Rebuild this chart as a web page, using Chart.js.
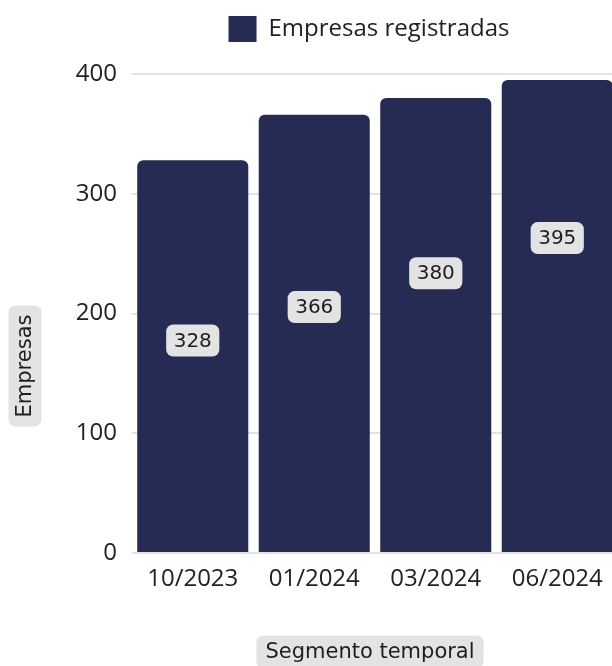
<!DOCTYPE html>
<html>
<head>
<meta charset="utf-8">
<script src="https://cdn.jsdelivr.net/npm/chart.js@4.4.1/dist/chart.umd.min.js"></script>
<style>
    html, body { margin: 0; padding: 0; background: #fff; overflow: hidden; }
    #wrap { width: 620px; height: 666px; }
</style>
</head>
<body>
<div id="wrap"><canvas id="empresasChart"></canvas></div>
<script>
    const categories = ['10/2023', '01/2024', '03/2024', '06/2024'];
    const empresas = [328, 366, 380, 395];
    const yTicks = [0, 100, 200, 300, 400];

    const barColor = '#252b52';

    // extra room under the legend, and nudge it a bit to the left
    const legendGap = {
        id: 'legendGap',
        afterInit(chart, args, opts) {
            const legend = chart.legend;
            const fit = legend.fit;
            legend.fit = function () {
                fit.call(this);
                this.height += opts.gap;
            };
        },
        afterLayout(chart, args, opts) {
            chart.legend.left -= opts.shift;
            chart.legend.right -= opts.shift;
        }
    };

    // value boxes drawn inside each bar
    const valueBoxes = {
        id: 'valueBoxes',
        afterDatasetsDraw(chart, args, opts) {
            const ctx = chart.ctx;
            const meta = chart.getDatasetMeta(0);
            ctx.save();
            ctx.font = '20px "DejaVu Sans"';
            ctx.textAlign = 'center';
            ctx.textBaseline = 'middle';
            meta.data.forEach((bar, i) => {
                const y = bar.y + (bar.base - bar.y) * opts.lift[i];
                const txt = String(empresas[i]);
                const w = ctx.measureText(txt).width + 15;
                const h = 32;
                ctx.fillStyle = '#e3e3e3';
                ctx.beginPath();
                ctx.roundRect(bar.x - w / 2, y - h / 2, w, h, 7);
                ctx.fill();
                ctx.fillStyle = '#1e1e1e';
                ctx.fillText(txt, bar.x, y + 1);
            });
            ctx.restore();
        }
    };

    // axis titles with rounded grey background
    const axisTitles = {
        id: 'axisTitles',
        afterDraw(chart, args, opts) {
            const ctx = chart.ctx;
            ctx.save();
            ctx.font = '21px "DejaVu Sans"';
            ctx.textAlign = 'center';
            ctx.textBaseline = 'middle';
            opts.items.forEach(item => {
                ctx.save();
                ctx.translate(item.x, item.y);
                ctx.rotate(item.rotation);
                const w = ctx.measureText(item.text).width + 18;
                const h = 33;
                ctx.fillStyle = '#e3e3e3';
                ctx.beginPath();
                ctx.roundRect(-w / 2, -h / 2, w, h, 7);
                ctx.fill();
                ctx.fillStyle = '#1e1e1e';
                ctx.fillText(item.text, 0, 1);
                ctx.restore();
            });
            ctx.restore();
        }
    };

    const ctx = document.getElementById('empresasChart').getContext('2d');
    new Chart(ctx, {
        type: 'bar',
        data: {
            labels: categories,
            datasets: [{
                label: 'Empresas registradas',
                data: empresas,
                backgroundColor: barColor,
                borderRadius: 6,
                categoryPercentage: 1,
                barPercentage: 0.914
            }]
        },
        options: {
            responsive: true,
            maintainAspectRatio: false,
            animation: false,
            layout: {
                padding: { top: 2, right: 2, left: 0, bottom: 0 }
            },
            scales: {
                x: {
                    grid: { display: false },
                    border: { display: false },
                    ticks: {
                        color: '#222',
                        padding: 4,
                        font: { family: '"Open Sans"', size: 24 }
                    },
                    afterFit: (scale) => { scale.height = 113; }
                },
                y: {
                    min: 0,
                    max: 400,
                    afterBuildTicks: (scale) => { scale.ticks = yTicks.map(v => ({ value: v })); },
                    grid: { color: '#e2e2e2', lineWidth: 2, drawTicks: false },
                    border: { display: false },
                    ticks: {
                        color: '#222',
                        padding: 15,
                        font: { family: '"Open Sans"', size: 24 }
                    },
                    afterFit: (scale) => { scale.width = 132; }
                }
            },
            plugins: {
                legend: {
                    position: 'top',
                    fullSize: false,
                    labels: {
                        color: '#222',
                        boxWidth: 28,
                        boxHeight: 26,
                        padding: 14,
                        font: { family: '"Open Sans"', size: 24 }
                    }
                },
                legendGap: { gap: 22, shift: 6 },
                tooltip: { enabled: false },
                valueBoxes: { lift: [0.46, 0.44, 0.386, 0.335] },
                axisTitles: {
                    items: [
                        { text: 'Empresas', x: 25, y: 366, rotation: -Math.PI / 2 },
                        { text: 'Segmento temporal', x: 370, y: 652, rotation: 0 }
                    ]
                }
            }
        },
        plugins: [legendGap, valueBoxes, axisTitles]
    });
</script>
</body>
</html>
